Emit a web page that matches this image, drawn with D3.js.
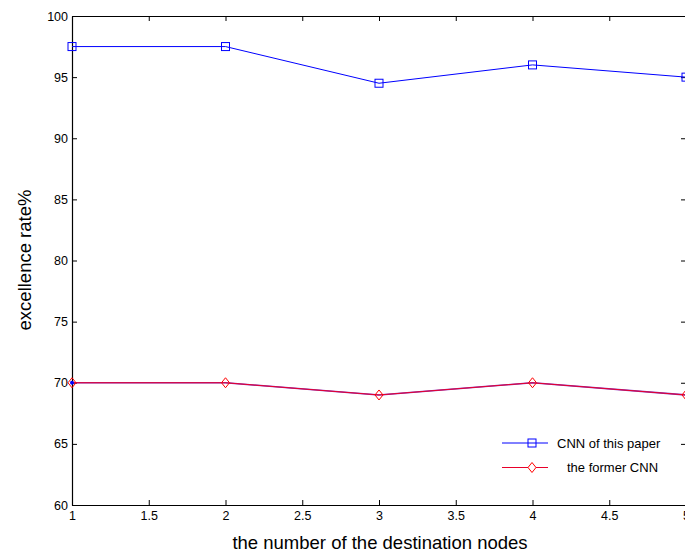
<!DOCTYPE html>
<html>
<head>
<meta charset="utf-8">
<script src="https://cdn.jsdelivr.net/npm/d3@7"></script>
<style>
  body { margin: 0; background: #fff; }
  svg { display: block; font-family: "Liberation Sans", Arial, sans-serif; }
</style>
</head>
<body>
<div id="viz"></div>
<script>
const width = 685;
const height = 554;

// data
const nodes = [1, 2, 3, 4, 5];
const cnnThisPaper = [97.5, 97.5, 94.5, 96, 95];
const formerCnn = [70, 70, 69, 70, 69];
const xTicks = [1, 1.5, 2, 2.5, 3, 3.5, 4, 4.5, 5];
const yTicks = [60, 65, 70, 75, 80, 85, 90, 95, 100];
const seriesNames = ["CNN of this paper", "the former CNN"];

const svg = d3.select('#viz')
    .append("svg")
    .attr('width', width)
    .attr('height', height);

const xScale = d3.scaleLinear().domain([1, 5]).range([72, 686]);
const yScale = d3.scaleLinear().domain([60, 100]).range([505, 16]);

// axes box with inward ticks
const tickLen = 5;
const axisG = svg.append("g");

axisG.append("g")
    .attr("transform", `translate(0, ${yScale(60)})`)
    .call(d3.axisBottom(xScale).tickValues(xTicks).tickSizeInner(-tickLen).tickSizeOuter(0)
        .tickFormat(d3.format("")).tickPadding(6));
axisG.append("g")
    .attr("transform", `translate(0, ${yScale(100)})`)
    .call(d3.axisTop(xScale).tickValues(xTicks).tickSizeInner(-tickLen).tickSizeOuter(0).tickFormat(""));
axisG.append("g")
    .attr("transform", `translate(${xScale(1)}, 0)`)
    .call(d3.axisLeft(yScale).tickValues(yTicks).tickSizeInner(-tickLen).tickSizeOuter(0).tickPadding(4));
axisG.append("g")
    .attr("transform", `translate(${xScale(5)}, 0)`)
    .call(d3.axisRight(yScale).tickValues(yTicks).tickSizeInner(-tickLen).tickSizeOuter(0).tickFormat(""));

axisG.selectAll(".domain").attr("stroke", "#000").attr("stroke-width", 1.2);
axisG.selectAll(".tick line").attr("stroke", "#000");
axisG.selectAll(".tick text")
    .attr("font-size", 12.5)
    .attr("fill", "#000")
    .attr("font-family", "Liberation Sans, Arial, sans-serif");

// axis titles
svg.append("text")
    .attr("x", 380)
    .attr("y", 549)
    .attr("text-anchor", "middle")
    .attr("font-size", 18.5)
    .text("the number of the destination nodes");

svg.append("text")
    .attr("transform", `translate(31, 260) rotate(-90)`)
    .attr("text-anchor", "middle")
    .attr("font-size", 18.5)
    .text("excellence rate%");

const line = d3.line()
    .x((d, i) => xScale(nodes[i]))
    .y(d => yScale(d));

// blue series
svg.append("path")
    .datum(cnnThisPaper)
    .attr("fill", "none")
    .attr("stroke", "#0000ff")
    .attr("d", line);

svg.selectAll(".sq")
    .data(cnnThisPaper)
    .enter()
    .append("rect")
    .attr("x", (d, i) => xScale(nodes[i]) - 4)
    .attr("y", d => yScale(d) - 4)
    .attr("width", 8)
    .attr("height", 8)
    .attr("fill", "none")
    .attr("stroke", "#0000ff");

// red series (blue shows through underneath in the original)
svg.append("path")
    .datum(formerCnn)
    .attr("fill", "none")
    .attr("stroke", "#8030c0")
    .attr("stroke-width", 1.6)
    .attr("d", line);
svg.append("path")
    .datum(formerCnn)
    .attr("fill", "none")
    .attr("stroke", "#e8002a")
    .attr("d", line);

const diamond = (cx, cy) => `M ${cx} ${cy - 5} L ${cx + 4} ${cy} L ${cx} ${cy + 5} L ${cx - 4} ${cy} Z`;

svg.selectAll(".dia")
    .data(formerCnn)
    .enter()
    .append("path")
    .attr("d", (d, i) => diamond(xScale(nodes[i]), yScale(d)))
    .attr("fill", "none")
    .attr("stroke", "#ff0000");

svg.append("circle")
    .attr("cx", xScale(1))
    .attr("cy", yScale(70))
    .attr("r", 2)
    .attr("fill", "#0000ff");

// legend
const legend = svg.append("g");
const legendColors = ["#0000ff", "#e8002a"];
const legendX = [557, 567];
seriesNames.forEach((name, i) => {
    const y = 443 + i * 24.5;
    legend.append("line")
        .attr("x1", 502).attr("x2", 548)
        .attr("y1", y).attr("y2", y)
        .attr("stroke", legendColors[i]);
    if (i === 0) {
        legend.append("rect")
            .attr("x", 528).attr("y", y - 4)
            .attr("width", 8).attr("height", 8)
            .attr("fill", "none").attr("stroke", "#0000ff");
    } else {
        legend.append("path")
            .attr("d", diamond(532, y))
            .attr("fill", "#fff").attr("stroke", "#ff0000");
    }
    legend.append("text")
        .attr("x", legendX[i])
        .attr("y", y + 4.5)
        .attr("font-size", 13)
        .text(name);
});
</script>
</body>
</html>
